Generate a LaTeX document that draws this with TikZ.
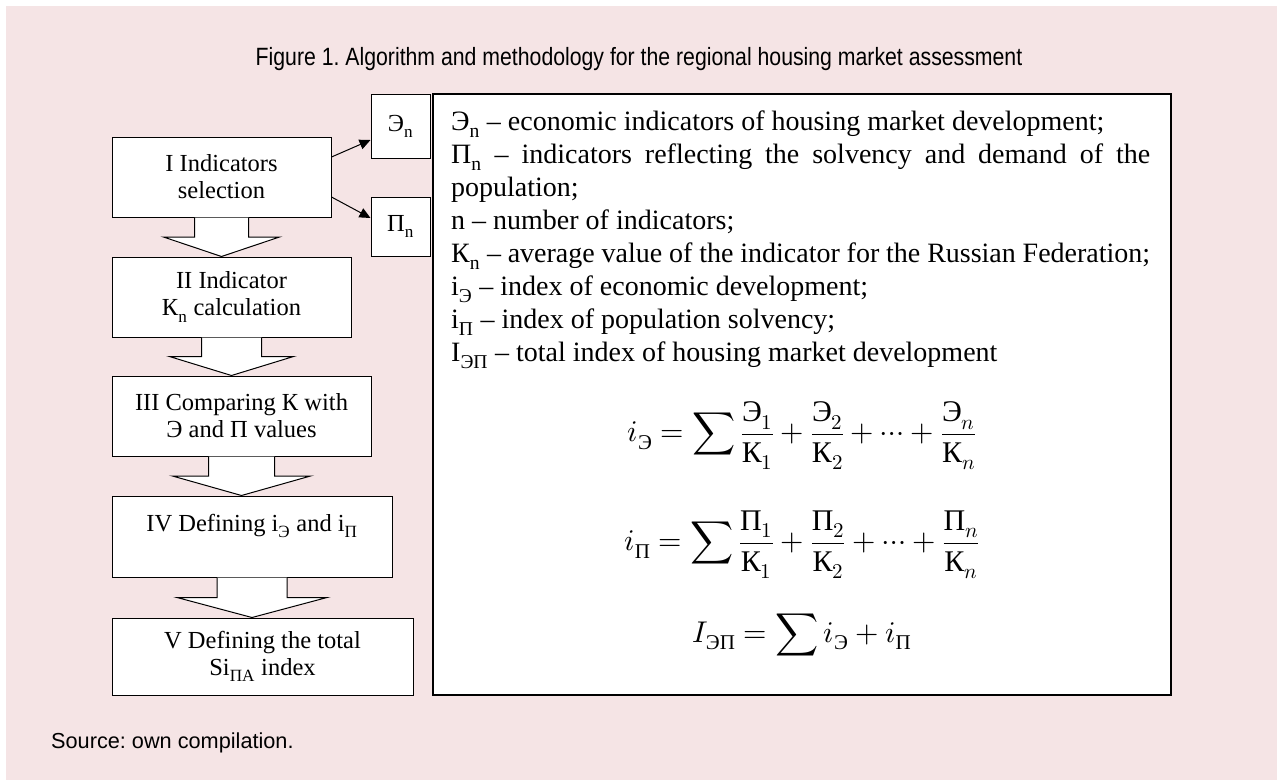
\documentclass[tikz,border=0pt]{standalone}
\usepackage{amsmath}
\usepackage{unicode-math}
\setmainfont{Liberation Serif}
\newfontfamily\titlefont{Liberation Sans}[FakeStretch=0.85]
\newfontfamily\notefont{Liberation Sans}
\usetikzlibrary{arrows.meta,calc}

\definecolor{panel}{RGB}{245,228,229}
\frenchspacing
\setlength{\parindent}{0pt}
\hyphenpenalty=10000

\tikzset{
  stepbox/.style={draw,fill=white,line width=1pt,align=center,inner sep=2pt,
    font=\fontsize{24.5}{27}\selectfont},
  legbox/.style={draw,fill=white,line width=1.5pt},
  legtext/.style={text width=699pt,align=justify,inner sep=0pt,
    font=\fontsize{28}{33}\selectfont},
  formula/.style={inner sep=0pt,font=\fontsize{30}{36}\selectfont},
  ptr/.style={line width=1pt,-{Triangle[length=11pt,width=10pt]}},
  blockarr/.style={draw,fill=white,line width=1pt,line join=miter},
}

\begin{document}
\begin{tikzpicture}[x=1pt,y=-1pt]
    % fondo
    \useasboundingbox (0,0) rectangle (1277,780);
    \fill[panel] (6,6) rectangle (1277,780);

    % titulo y fuente
    \node[font=\titlefont\fontsize{25}{29}\selectfont] (title) at (639,59)
        {Figure 1. Algorithm and methodology for the regional housing market assessment};
    \node[font=\notefont\fontsize{21.7}{25}\selectfont,anchor=west,inner sep=0pt] (source) at (51,743)
        {Source: own compilation.};

    % cuadro de la derecha
    \node[legbox,minimum width=738,minimum height=601] (legend) at (802,394.5) {};
    \node[legtext,anchor=north west] (items) at (451,111) {%
        Э\textsubscript{n} – economic indicators of housing market development;\par
        П\textsubscript{n} – indicators reflecting the solvency and demand of the\linebreak population;\par
        n – number of indicators;\par
        К\textsubscript{n} – average value of the indicator for the Russian Federation;\par
        i\textsubscript{Э} – index of economic development;\par
        i\textsubscript{П} – index of population solvency;\par
        I\textsubscript{ЭП} – total index of housing market development};
    \node[formula] (fe) at (802,436)
        {$\displaystyle i_{\text{Э}} = \sum \frac{\text{Э}_1}{\text{К}_1} + \frac{\text{Э}_2}{\text{К}_2} + \cdots + \frac{\text{Э}_n}{\text{К}_n}$};
    \node[formula] (fp) at (802,545)
        {$\displaystyle i_{\text{П}} = \sum \frac{\text{П}_1}{\text{К}_1} + \frac{\text{П}_2}{\text{К}_2} + \cdots + \frac{\text{П}_n}{\text{К}_n}$};
    \node[formula] (ft) at (802,635)
        {$\displaystyle I_{\text{ЭП}} = \sum i_{\text{Э}} + i_{\text{П}}$};

    % pasos del algoritmo
    \node[stepbox,minimum width=219,minimum height=80] (b1) at (221.5,177) {I Indicators\\selection};
    \node[stepbox,minimum width=239,minimum height=80] (b2) at (231.5,297) {II Indicator\\К\textsubscript{n} calculation};
    \node[stepbox,minimum width=259,minimum height=80] (b3) at (241.5,416) {III Comparing К with\\Э and П values};
    \node[stepbox,minimum width=280,minimum height=81] (b4) at (252,536.5) {IV Defining i\textsubscript{Э} and i\textsubscript{П}\\\mbox{}};
    \node[stepbox,minimum width=301,minimum height=77] (b5) at (262.5,656.5) {V Defining the total\\Si\textsubscript{ПА} index};

    % indicadores
    \node[stepbox,minimum width=59,minimum height=64] (en) at (400.5,126) {Э\textsubscript{n}};
    \node[stepbox,minimum width=59,minimum height=59] (pn) at (400.5,226.5) {П\textsubscript{n}};
    \draw[ptr] ($(b1.east)+(0,-20)$) -- ($(en.west)+(0,14)$);
    \draw[ptr] ($(b1.east)+(0,20)$) -- ($(pn.west)+(0,-8.5)$);

    % flechas anchas entre pasos
    \foreach \a/\b/\s/\h in {b1/b2/27/58, b2/b3/30/62, b3/b4/33/69, b4/b5/35/75}
        \draw[blockarr] ($(\a.south)+(-\s,0)$) -- ($(\a.south)!.5!(\a.south|-\b.north)+(-\s,0)$)
            -- ($(\a.south)!.5!(\a.south|-\b.north)+(-\h,0)$) -- (\a.south|-\b.north)
            -- ($(\a.south)!.5!(\a.south|-\b.north)+(\h,0)$) -- ($(\a.south)!.5!(\a.south|-\b.north)+(\s,0)$)
            -- ($(\a.south)+(\s,0)$);
\end{tikzpicture}
\end{document}
